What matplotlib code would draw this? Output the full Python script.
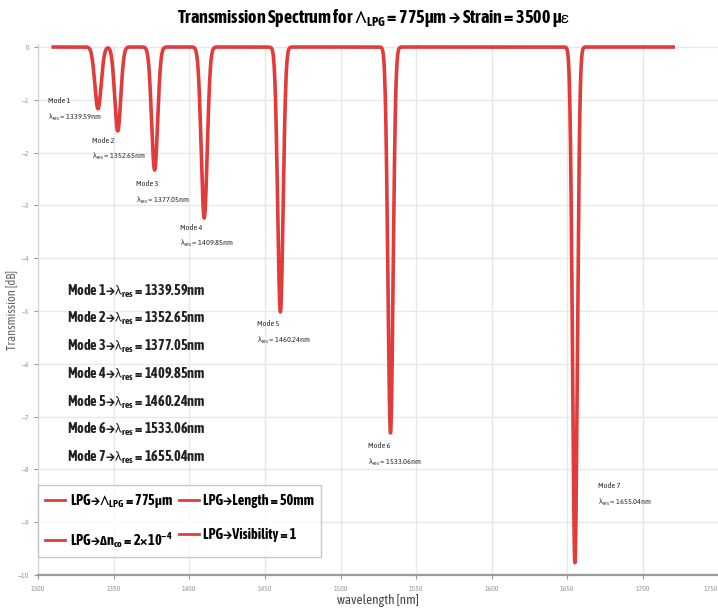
import numpy as np
import matplotlib
matplotlib.use("Agg")
import matplotlib.pyplot as plt
from matplotlib.lines import Line2D
from matplotlib import font_manager

# narrow/condensed family that also has a bold face, else Liberation Sans
def is_bold(w):
    return w in ("bold", "heavy", "black", "extra bold", "demibold", "semibold") or (isinstance(w, int) and w >= 600)

bold_narrow = sorted({f.name for f in font_manager.fontManager.ttflist
                      if ("Narrow" in f.name or "Condensed" in f.name) and is_bold(f.weight)})
narrow = bold_narrow[0] if bold_narrow else "Liberation Sans"
plt.rcParams["font.family"] = [narrow, "DejaVu Sans"]
plt.rcParams["mathtext.default"] = "regular"

# Resonance data
modes = [1, 2, 3, 4, 5, 6, 7]
res_wl = [1339.59, 1352.65, 1377.05, 1409.85, 1460.24, 1533.06, 1655.04]
dip_db = [-1.17, -1.59, -2.33, -3.24, -5.02, -7.31, -9.77]
dip_sigma = [2.1, 2.0, 2.0, 2.0, 1.8, 1.7, 1.6]

# annotation anchor (wavelength, dB) for the small labels
label_x = [1306.5, 1335.6, 1364.7, 1393.8, 1444.7, 1518.2, 1670.3]
label_y = [-0.95, -1.70, -2.52, -3.35, -5.17, -7.48, -8.24]

legend_labels = [
    "LPG→$\\Lambda_{LPG}$ = 775$\\mu$m",
    "LPG→$\\Delta n_{co}$ = 2×10$^{-4}$",
    "LPG→Length = 50mm",
    "LPG→Visibility = 1",
]

wl = np.linspace(1310, 1720, 4000)
trans = np.zeros_like(wl)
for c, d, s in zip(res_wl, dip_db, dip_sigma):
    trans += d * np.exp(-((wl - c) ** 2) / (2 * s ** 2))

fig = plt.figure(figsize=(7.18, 6.08), dpi=100)
ax = fig.add_axes([0.0531, 0.0543, 0.9476, 0.8727])

red = "#e23b3b"
ax.plot(wl, trans, color=red, lw=2.6, clip_on=False, zorder=3)

ax.set_xlim(1300, 1750)
ax.set_ylim(-10, 0.05)
ax.set_xticks(np.arange(1300, 1751, 50))
ax.set_yticks(np.arange(-10, 1, 1))
ax.grid(True, color="#e8e8e8", lw=1)
ax.set_axisbelow(True)
for s in ["top", "right"]:
    ax.spines[s].set_visible(False)
ax.spines["left"].set_color("#d0d0d0")
ax.spines["bottom"].set_color("#9a9a9a")
ax.spines["bottom"].set_linewidth(1.6)
ax.tick_params(labelsize=5.5, colors="#999999", length=3)
ax.tick_params(axis="x", pad=4)
ax.get_xticklabels()[-1].set_horizontalalignment("right")

ax.set_xlabel("wavelength [nm]", fontsize=9.5, color="#444444", labelpad=1)
ax.set_ylabel("Transmission [dB]", fontsize=9, color="#666666")
ax.yaxis.set_label_coords(-0.029, 0.5)
fig.suptitle("Transmission Spectrum for $\\Lambda_{LPG}$ = 775$\\mu$m → Strain = 3500 $\\mu\\epsilon$",
             fontsize=13, fontweight="bold", x=0.52, y=0.988)

# small labels next to every dip
for m, c, x, y in zip(modes, res_wl, label_x, label_y):
    ax.text(x, y, f"Mode {m}\n" + "$\\lambda_{res}$" + f" = {c:.2f}nm",
            fontsize=6, color="#333333", va="top", ha="left", linespacing=1.8)

# summary block
for i, (m, c) in enumerate(zip(modes, res_wl)):
    ax.text(1319.4, -4.62 - 0.525 * i,
            f"Mode {m}→" + "$\\lambda_{res}$" + f" = {c:.2f}nm",
            fontsize=10.3, fontweight="bold", color="#222222", va="center", ha="left")

handles = [Line2D([], [], color=red, lw=2) for _ in legend_labels]
leg = ax.legend(handles, legend_labels, ncol=2, loc="lower left",
                bbox_to_anchor=(0.0, 0.034), prop={"weight": "bold", "size": 10.3},
                handlelength=1.4, handletextpad=0.3, columnspacing=0.4,
                frameon=True, fancybox=False, borderpad=0.5, labelspacing=1.4,
                borderaxespad=0.0)
leg.get_frame().set_edgecolor("#bbbbbb")
leg.get_frame().set_linewidth(1.0)

fig.savefig("out.png", dpi=100)
